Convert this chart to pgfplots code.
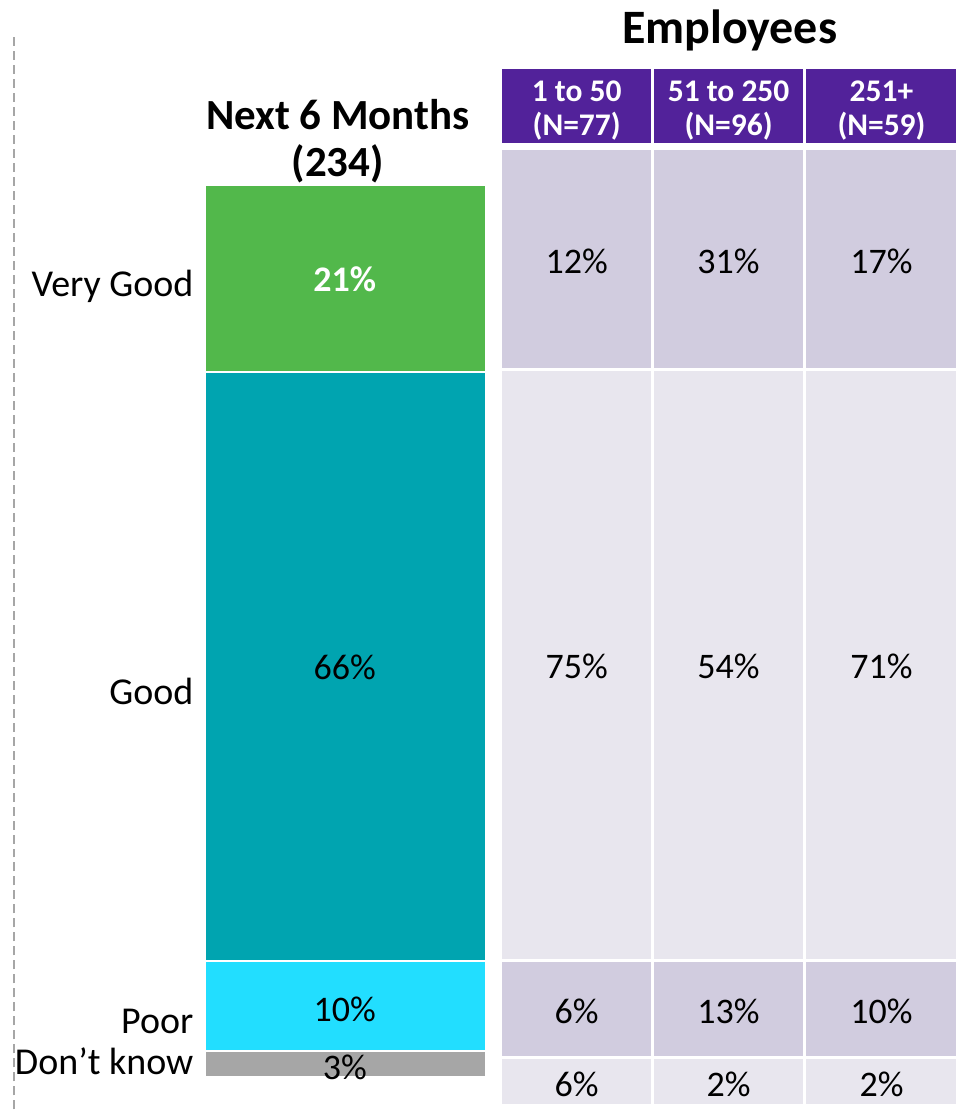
\documentclass[border=0pt]{standalone}
\usepackage{pgfplots}
\pgfplotsset{compat=1.18}
\usepackage{fontspec}
\setmainfont{Carlito}
\definecolor{cgreen}{HTML}{52B84B}
\definecolor{cteal}{HTML}{00A4B0}
\definecolor{ccyan}{HTML}{22DEFF}
\definecolor{cgray}{HTML}{A6A6A6}
\definecolor{cpurple}{HTML}{52229A}
\definecolor{crowA}{HTML}{D1CCDF}
\definecolor{crowB}{HTML}{E8E6EE}
\newcommand{\fs}[1]{\fontsize{#1bp}{#1bp}\selectfont}
\begin{document}
\begin{tikzpicture}
% stacked bar
\begin{axis}[at={(205bp,32bp)},anchor=south west,scale only axis,
  width=281bp,height=893bp,xmin=-0.5,xmax=0.5,ymin=0,ymax=100,
  hide axis,ybar stacked,bar width=281bp,clip=false]
\addplot[fill=cgray,draw=white,line width=2bp] coordinates {(0,3)};
\addplot[fill=ccyan,draw=white,line width=2bp] coordinates {(0,10)};
\addplot[fill=cteal,draw=white,line width=2bp] coordinates {(0,66)};
\addplot[fill=cgreen,draw=white,line width=2bp] coordinates {(0,21)};
\end{axis}
% frame in pixel units
\begin{axis}[at={(0bp,0bp)},anchor=south west,scale only axis,
  width=962bp,height=1110bp,xmin=0,xmax=962,ymin=0,ymax=1110,
  hide axis,clip=false]
\path (axis cs:0,0) rectangle (axis cs:962,1110);
\draw[black!35,line width=1.3bp,dash pattern=on 9bp off 5bp] (axis cs:14,0) -- (axis cs:14,1076);
% header cells
\fill[cpurple] (axis cs:502,967) rectangle (axis cs:651,1041);
\fill[cpurple] (axis cs:654,967) rectangle (axis cs:803,1041);
\fill[cpurple] (axis cs:806,967) rectangle (axis cs:957,1041);
% row cells
\fill[crowA] (axis cs:502,742) rectangle (axis cs:651,960);
\fill[crowB] (axis cs:502,150) rectangle (axis cs:651,739);
\fill[crowA] (axis cs:502,53) rectangle (axis cs:651,147);
\fill[crowB] (axis cs:502,5) rectangle (axis cs:651,50);
\fill[crowA] (axis cs:654,742) rectangle (axis cs:803,960);
\fill[crowB] (axis cs:654,150) rectangle (axis cs:803,739);
\fill[crowA] (axis cs:654,53) rectangle (axis cs:803,147);
\fill[crowB] (axis cs:654,5) rectangle (axis cs:803,50);
\fill[crowA] (axis cs:806,742) rectangle (axis cs:957,960);
\fill[crowB] (axis cs:806,150) rectangle (axis cs:957,739);
\fill[crowA] (axis cs:806,53) rectangle (axis cs:957,147);
\fill[crowB] (axis cs:806,5) rectangle (axis cs:957,50);
% titles
\node[font=\fs{43}\bfseries,anchor=center] at (axis cs:338,995) {Next 6 Months};
\node[font=\fs{43}\bfseries,anchor=center] at (axis cs:338,946) {(234)};
\node[font=\fs{48}\bfseries,anchor=center] at (axis cs:730,1080) {Employees};
% header labels
\addplot[only marks,mark=none,nodes near coords,point meta=explicit symbolic,
  nodes near coords style={anchor=center,text=white,font=\fs{31.5}\bfseries}]
  table[meta=label,col sep=comma]{
x,y,label
577,1019,1 to 50
729,1019,51 to 250
882,1019,251+
577,984,(N=77)
729,984,(N=96)
882,984,(N=59)
};
% category labels
\node[font=\fs{38},anchor=east] at (axis cs:197,823) {Very Good};
\node[font=\fs{38},anchor=east] at (axis cs:197,418) {Good};
\node[font=\fs{38},anchor=east] at (axis cs:197,88) {Poor};
\node[font=\fs{38},anchor=east] at (axis cs:197,48) {Don’t know};
% bar labels
\addplot[only marks,mark=none,nodes near coords,point meta=explicit symbolic,
  nodes near coords style={anchor=center,text=white,font=\fs{36}\bfseries}]
  table[meta=label,col sep=comma]{
x,y,label
345,831,21\%
};
\addplot[only marks,mark=none,nodes near coords,point meta=explicit symbolic,
  nodes near coords style={anchor=center,font=\fs{36}}]
  table[meta=label,col sep=comma]{
x,y,label
345,442,66\%
345,100,10\%
345,42,3\%
};
% table values
\addplot[only marks,mark=none,nodes near coords,point meta=explicit symbolic,
  nodes near coords style={anchor=center,font=\fs{36}}]
  table[meta=label,col sep=comma]{
x,y,label
577,848,12\%
729,848,31\%
882,848,17\%
577,443,75\%
729,443,54\%
882,443,71\%
577,98,6\%
729,98,13\%
882,98,10\%
577,25,6\%
729,25,2\%
882,25,2\%
};
\end{axis}
\end{tikzpicture}
\end{document}
